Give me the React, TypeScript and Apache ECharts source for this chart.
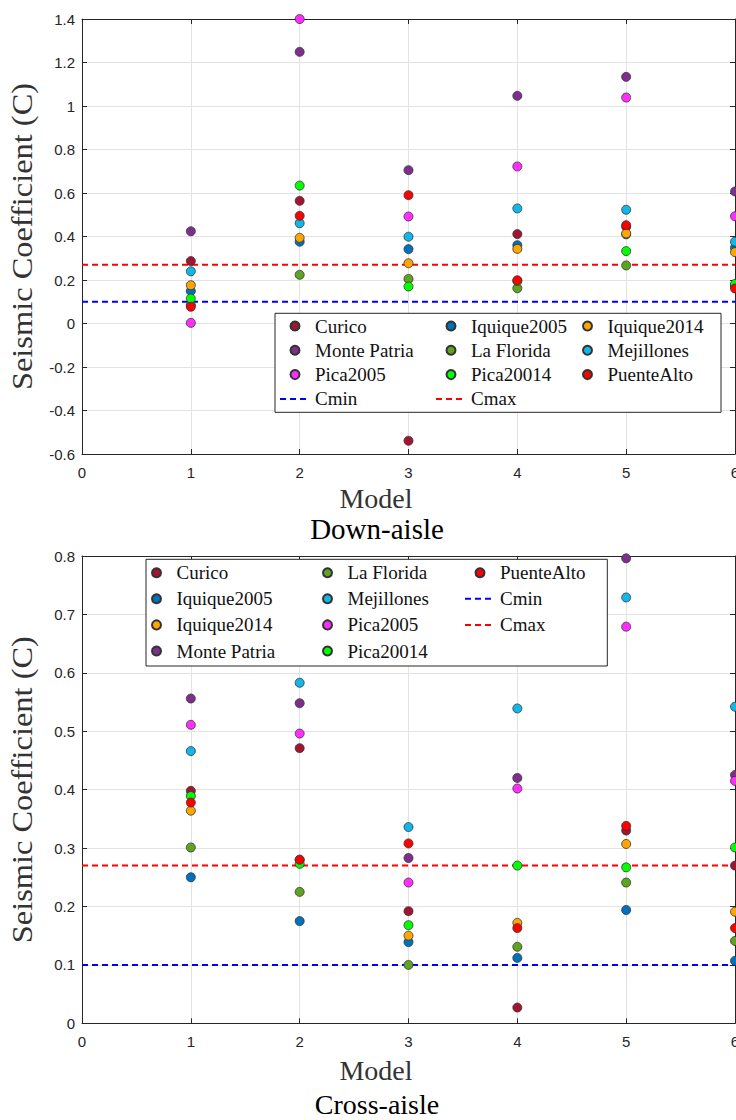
import React, { useEffect, useRef } from "react";
import * as echarts from "echarts";

// ---- data ----
const models = [1, 2, 3, 4, 5, 6];
const seriesNames = ["Curico", "Iquique2005", "Iquique2014", "Monte Patria", "La Florida", "Mejillones", "Pica2005", "Pica20014", "PuenteAlto"];
const seriesColors = ["#a2142f", "#0072bd", "#ffa500", "#7e2f8e", "#5ea421", "#12b7ea", "#ff2eff", "#00ff00", "#ff0000"];

// Down-aisle seismic coefficients (models 1..6)
const downCurico = [0.287, 0.564, -0.539, 0.411, 0.445, 0.17];
const downIquique2005 = [0.149, 0.376, 0.342, 0.36, 0.41, 0.348];
const downIquique2014 = [0.176, 0.394, 0.277, 0.343, 0.414, 0.328];
const downMontePatria = [0.424, 1.249, 0.705, 1.047, 1.134, 0.607];
const downLaFlorida = [0.085, 0.224, 0.205, 0.162, 0.267, 0.175];
const downMejillones = [0.24, 0.461, 0.399, 0.529, 0.523, 0.376];
const downPica2005 = [0.003, 1.4, 0.492, 0.722, 1.039, 0.493];
const downPica20014 = [0.115, 0.634, 0.17, 0.195, 0.333, 0.182];
const downPuenteAlto = [0.077, 0.495, 0.59, 0.199, 0.452, 0.161];

// Cross-aisle seismic coefficients (models 1..6)
const crossCurico = [0.398, 0.471, 0.192, 0.027, 0.33, 0.27];
const crossIquique2005 = [0.25, 0.175, 0.139, 0.112, 0.194, 0.107];
const crossIquique2014 = [0.364, 0.28, 0.15, 0.172, 0.307, 0.191];
const crossMontePatria = [0.556, 0.548, 0.283, 0.42, 0.796, 0.425];
const crossLaFlorida = [0.301, 0.225, 0.1, 0.131, 0.241, 0.141];
const crossMejillones = [0.466, 0.583, 0.336, 0.539, 0.729, 0.542];
const crossPica2005 = [0.511, 0.496, 0.241, 0.402, 0.679, 0.415];
const crossPica20014 = [0.389, 0.273, 0.168, 0.27, 0.267, 0.301];
const crossPuenteAlto = [0.378, 0.28, 0.308, 0.163, 0.338, 0.163];

const downValues = [downCurico, downIquique2005, downIquique2014, downMontePatria, downLaFlorida, downMejillones, downPica2005, downPica20014, downPuenteAlto];
const crossValues = [crossCurico, crossIquique2005, crossIquique2014, crossMontePatria, crossLaFlorida, crossMejillones, crossPica2005, crossPica20014, crossPuenteAlto];

const cMin = 0.1;
const cMax = 0.27;
const xRange = [0, 6];

const xTickLabels = ["0", "1", "2", "3", "4", "5", "6"];
const yTopTickLabels = ["-0.6", "-0.4", "-0.2", "0", "0.2", "0.4", "0.6", "0.8", "1", "1.2", "1.4"];
const yBottomTickLabels = ["0", "0.1", "0.2", "0.3", "0.4", "0.5", "0.6", "0.7", "0.8"];

const yTitle = "Seismic Coefficient (C)";
const xTitle = "Model";
const topCaption = "Down-aisle";
const bottomCaption = "Cross-aisle";

const AXIS_COLOR = "#262626";
const GRID_COLOR = "#e3e3e3";
const SERIF = "'Liberation Serif', 'Times New Roman', serif";
const SANS = "'Liberation Sans', Arial, sans-serif";

function labelFrom(list: string[]) {
  return (v: number) => {
    const s = String(Number(v.toFixed(2)));
    const found = list.find((l) => Number(l) === Number(s));
    return found ?? s;
  };
}

function makeAxes(gridIndex: number, yMin: number, yMax: number, yInt: number, yLabels: string[]) {
  const line = { show: true, onZero: false, lineStyle: { color: AXIS_COLOR, width: 1 } };
  const tick = { show: true, inside: true, length: 5, lineStyle: { color: AXIS_COLOR, width: 1 } };
  const xs = [
    {
      gridIndex, type: "value", min: xRange[0], max: xRange[1], interval: 1,
      axisLine: line, axisTick: tick,
      axisLabel: { margin: 11, fontSize: 15, fontFamily: SANS, color: AXIS_COLOR, formatter: labelFrom(xTickLabels) },
      splitLine: { show: true, lineStyle: { color: GRID_COLOR, width: 1 } },
    },
    {
      gridIndex, type: "value", position: "top", min: xRange[0], max: xRange[1], interval: 1,
      axisLine: line, axisTick: tick, axisLabel: { show: false }, splitLine: { show: false },
    },
  ];
  const ys = [
    {
      gridIndex, type: "value", min: yMin, max: yMax, interval: yInt,
      axisLine: line, axisTick: tick,
      axisLabel: { margin: 7, fontSize: 15, fontFamily: SANS, color: AXIS_COLOR, formatter: labelFrom(yLabels) },
      splitLine: { show: true, lineStyle: { color: GRID_COLOR, width: 1 } },
    },
    {
      gridIndex, type: "value", position: "right", min: yMin, max: yMax, interval: yInt,
      axisLine: line, axisTick: tick, axisLabel: { show: false }, splitLine: { show: false },
    },
  ];
  return { xs, ys };
}

function makeSeries(values: number[][], xAxisIndex: number, yAxisIndex: number) {
  const out: any[] = [];
  values.forEach((vals, k) => {
    out.push({
      type: "scatter",
      name: seriesNames[k],
      xAxisIndex, yAxisIndex,
      clip: false,
      symbol: "circle",
      symbolSize: 9,
      z: 3,
      itemStyle: { color: seriesColors[k], borderColor: "#333333", borderWidth: 0.8, opacity: 1 },
      data: models.map((m, i) => [m, vals[i]]),
    });
  });
  out.push({
    type: "line", name: "Cmin", xAxisIndex, yAxisIndex, symbol: "none", z: 2,
    lineStyle: { color: "#0000ff", width: 2, type: [6, 4] },
    itemStyle: { color: "#0000ff" },
    data: [[xRange[0], cMin], [xRange[1], cMin]],
  });
  out.push({
    type: "line", name: "Cmax", xAxisIndex, yAxisIndex, symbol: "none", z: 2,
    lineStyle: { color: "#ff0000", width: 2, type: [6, 4] },
    itemStyle: { color: "#ff0000" },
    data: [[xRange[0], cMax], [xRange[1], cMax]],
  });
  return out;
}

function legendItem(name: string) {
  if (name === "Cmin" || name === "Cmax") return { name, itemStyle: { opacity: 0 } };
  return { name };
}

function legendCol(names: string[], left: number, top: number, gap: number) {
  return {
    orient: "vertical", left, top, padding: 0, itemWidth: 30, itemHeight: 9, itemGap: gap,
    selectedMode: false, z: 10, data: names.map(legendItem),
    textStyle: { fontFamily: SERIF, fontSize: 19, lineHeight: 19, color: "#111" },
  };
}

export default function App() {
  const ref = useRef<HTMLDivElement>(null);
  useEffect(() => {
    if (!ref.current) return;
    const chart = echarts.init(ref.current, undefined, { renderer: "svg" });
    const top = makeAxes(0, -0.6, 1.4, 0.2, yTopTickLabels);
    const bot = makeAxes(1, 0, 0.8, 0.1, yBottomTickLabels);
    const option: any = {
      animation: false,
      backgroundColor: "#ffffff",
      grid: [
        { left: 82, top: 19, right: 1, height: 435, outerBoundsMode: "none", containLabel: false },
        { left: 82, top: 556, right: 1, height: 467.3, outerBoundsMode: "none", containLabel: false },
      ],
      xAxis: [...top.xs, ...bot.xs],
      yAxis: [...top.ys, ...bot.ys],
      legend: [
        // top chart (row-major order)
        legendCol([seriesNames[0], seriesNames[3], seriesNames[6], "Cmin"], 279, 316.5, 5.3),
        legendCol([seriesNames[1], seriesNames[4], seriesNames[7], "Cmax"], 435, 316.5, 5.3),
        legendCol([seriesNames[2], seriesNames[5], seriesNames[8]], 582, 316.5, 5.3),
        // bottom chart (column-major order)
        legendCol([seriesNames[0], seriesNames[1], seriesNames[2], seriesNames[3]], 151, 563.2, 7.1),
        legendCol([seriesNames[4], seriesNames[5], seriesNames[6], seriesNames[7]], 322, 563.2, 7.1),
        legendCol([seriesNames[8], "Cmin", "Cmax"], 464, 563.2, 7.1),
      ],
      graphic: [
        { type: "rect", z: 5, shape: { x: 275, y: 313.3, width: 446, height: 99 }, style: { fill: "#fff", stroke: AXIS_COLOR, lineWidth: 1 } },
        { type: "rect", z: 5, shape: { x: 146, y: 559.3, width: 461.3, height: 106.7 }, style: { fill: "#fff", stroke: AXIS_COLOR, lineWidth: 1 } },
        { type: "text", x: 22, y: 236.5, rotation: Math.PI / 2, scaleX: 1.08, style: { text: yTitle, font: `30px ${SERIF}`, fill: "#333", textAlign: "center", textVerticalAlign: "middle" } },
        { type: "text", x: 22, y: 789.7, rotation: Math.PI / 2, scaleX: 1.08, style: { text: yTitle, font: `30px ${SERIF}`, fill: "#333", textAlign: "center", textVerticalAlign: "middle" } },
        { type: "text", x: 376, y: 498, style: { text: xTitle, font: `28px ${SERIF}`, fill: "#333", textAlign: "center", textVerticalAlign: "middle" } },
        { type: "text", x: 376, y: 1070, style: { text: xTitle, font: `28px ${SERIF}`, fill: "#333", textAlign: "center", textVerticalAlign: "middle" } },
        { type: "text", x: 377, y: 529, style: { text: topCaption, font: `29px ${SERIF}`, fill: "#000", textAlign: "center", textVerticalAlign: "middle" } },
        { type: "text", x: 377, y: 1104, style: { text: bottomCaption, font: `28px ${SERIF}`, fill: "#000", textAlign: "center", textVerticalAlign: "middle" } },
      ],
      series: [...makeSeries(downValues, 0, 0), ...makeSeries(crossValues, 2, 2)],
    };
    chart.setOption(option);
    return () => chart.dispose();
  }, []);
  return <div ref={ref} style={{ position: "absolute", left: 0, top: 0, width: 736, height: 1120 }} />;
}
